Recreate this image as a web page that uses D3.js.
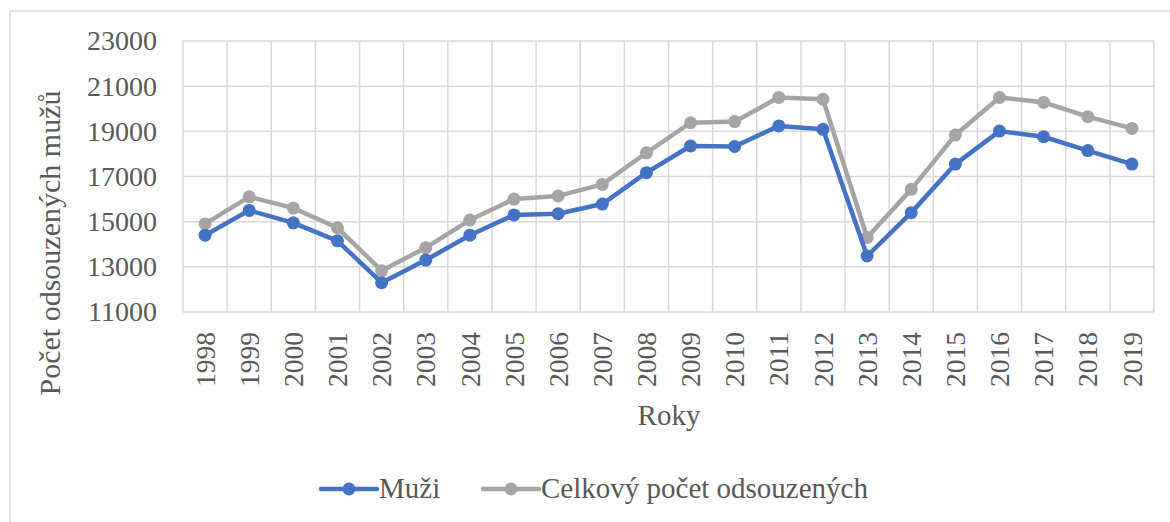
<!DOCTYPE html>
<html><head><meta charset="utf-8">
<script src="https://cdn.jsdelivr.net/npm/d3@7"></script>
<style>body{margin:0;background:#fff}svg{display:block}text{font-family:"Liberation Serif","Times New Roman",serif;fill:#595959}</style>
</head><body>
<svg id="c" width="1170" height="522"></svg>
<script>
const years = ["1998","1999","2000","2001","2002","2003","2004","2005","2006","2007","2008","2009","2010","2011","2012","2013","2014","2015","2016","2017","2018","2019"];
const muzi = [14400,15500,14950,14150,12300,13300,14400,15300,15350,15780,17170,18350,18330,19240,19090,13480,15400,17550,19010,18760,18150,17550];
const celkem = [14900,16100,15600,14730,12830,13850,15070,16000,16140,16650,18050,19380,19430,20500,20420,14300,16430,18840,20500,20280,19650,19130];
const yTicks = [11000,13000,15000,17000,19000,21000,23000];
const seriesNames = ["Muži","Celkový počet odsouzených"];
const colors = ["#4472C4","#A5A5A5"];

const svg = d3.select("#c");
svg.append("rect").attr("x",10).attr("y",11).attr("width",1200).attr("height",560)
  .attr("fill","none").attr("stroke","#d9d9d9").attr("stroke-width",1.5);

const L=183,R=1154,T=41,B=312;
const x = d3.scaleBand().domain(years).range([L,R]);
const y = d3.scaleLinear().domain([11000,23000]).range([B,T]);

const g = svg.append("g");
g.selectAll("line.h").data(yTicks).join("line")
  .attr("x1",L).attr("x2",R).attr("y1",d=>y(d)).attr("y2",d=>y(d))
  .attr("stroke","#d9d9d9").attr("stroke-width",1.5);
const bounds = years.map(d=>x(d)).concat([R]);
g.selectAll("line.v").data(bounds).join("line")
  .attr("x1",d=>d).attr("x2",d=>d).attr("y1",T).attr("y2",B)
  .attr("stroke","#d9d9d9").attr("stroke-width",1.5);

const yAxis = d3.axisLeft(y).tickValues(yTicks).tickSize(0).tickPadding(26).tickFormat(d3.format("d"));
const ya = svg.append("g").attr("transform",`translate(${L},0)`).call(yAxis);
ya.select(".domain").remove();
ya.selectAll("text").style("font-size","28px").style("font-family","Liberation Serif").attr("fill","#595959");

const xAxis = d3.axisBottom(x).tickSize(0).tickPadding(0);
const xa = svg.append("g").attr("transform",`translate(0,${B})`).call(xAxis);
xa.select(".domain").remove();
xa.selectAll("text").style("font-size","27.5px").style("font-family","Liberation Serif").attr("fill","#595959")
  .attr("transform","rotate(-90)").attr("text-anchor","end").attr("x",-20).attr("y",0).attr("dy","0.35em");

const data = [muzi, celkem];
const line = d3.line().x((d,i)=>x(years[i])+x.bandwidth()/2).y(d=>y(d));
[1,0].forEach(k=>{
  svg.append("path").datum(data[k]).attr("d",line).attr("fill","none")
    .attr("stroke",colors[k]).attr("stroke-width",4.5).attr("stroke-linejoin","round").attr("stroke-linecap","round");
  svg.append("g").selectAll("circle").data(data[k]).join("circle")
    .attr("cx",(d,i)=>x(years[i])+x.bandwidth()/2).attr("cy",d=>y(d)).attr("r",6.5).attr("fill",colors[k]);
});

svg.append("text").attr("transform","translate(60,243) rotate(-90)").attr("text-anchor","middle")
  .style("font-size","30px").text("Počet odsouzených mužů");
svg.append("text").attr("x",669).attr("y",425).attr("text-anchor","middle")
  .style("font-size","29px").text("Roky");

const leg = [{x1:321,x2:377,tx:379},{x1:483,x2:539,tx:541}];
leg.forEach((l,k)=>{
  svg.append("line").attr("x1",l.x1).attr("x2",l.x2).attr("y1",489).attr("y2",489)
    .attr("stroke",colors[k]).attr("stroke-width",4.5).attr("stroke-linecap","round");
  svg.append("circle").attr("cx",(l.x1+l.x2)/2).attr("cy",489).attr("r",6.5).attr("fill",colors[k]);
  svg.append("text").attr("x",l.tx).attr("y",498).style("font-size","29px").text(seriesNames[k]);
});
</script>
</body></html>
